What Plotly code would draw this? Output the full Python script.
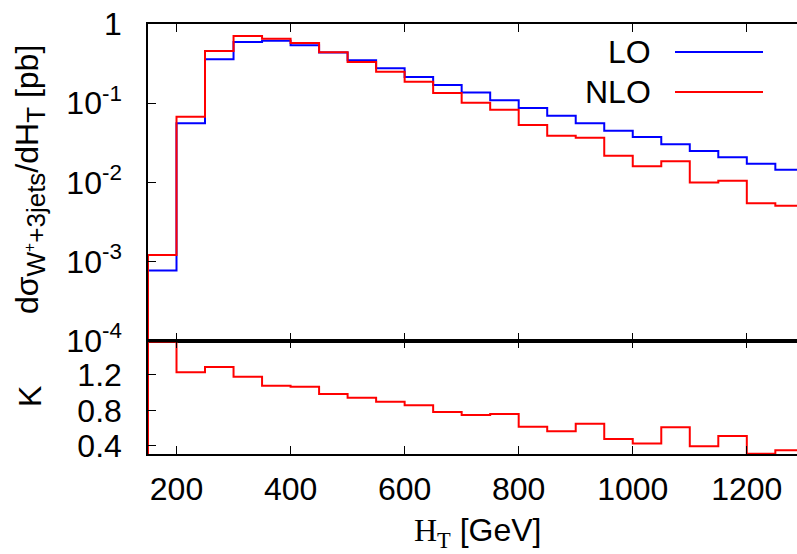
import plotly.graph_objects as go

# ---- data ----
edges = [150, 200, 250, 300, 350, 400, 450, 500, 550, 600, 650, 700, 750,
         800, 850, 900, 950, 1000, 1050, 1100, 1150, 1200, 1250, 1300]
lo = [7.7e-4, 0.0557, 0.358, 0.593, 0.615, 0.538, 0.435, 0.348, 0.276, 0.214,
      0.170, 0.136, 0.109, 0.087, 0.0695, 0.0557, 0.045, 0.0374, 0.0303,
      0.0249, 0.0207, 0.0172, 0.01446]
nlo = [1.21e-3, 0.0676, 0.456, 0.706, 0.653, 0.575, 0.44, 0.331, 0.25, 0.187,
       0.1345, 0.101, 0.0828, 0.053, 0.0389, 0.0367, 0.0217, 0.0160, 0.01845,
       0.00993, 0.01051, 0.00545, 0.00508]
kfac = [1.57, 1.226, 1.286, 1.178, 1.077, 1.065, 0.983, 0.942, 0.897, 0.856,
        0.781, 0.748, 0.759, 0.617, 0.564, 0.65, 0.478, 0.429, 0.609, 0.396,
        0.512, 0.314, 0.351]
top_ticks = [1, 0.1, 0.01, 0.001, 0.0001]
top_ticktext = ["1", "10<sup>-1</sup>", "10<sup>-2</sup>", "10<sup>-3</sup>", "10<sup>-4</sup>"]
k_ticks = [0.4, 0.8, 1.2]
x_ticks = [200, 400, 600, 800, 1000, 1200]

BLUE = "#0000ff"
RED = "#ff0000"
FONT = "Liberation Sans"
FS = 32

def step(vals, low):
    xs = [edges[0]] + edges
    ys = [low] + vals + [vals[-1]]
    return xs, ys

fig = go.Figure()
x, y = step(lo, 1e-6)
fig.add_trace(go.Scatter(x=x, y=y, mode="lines", line=dict(color=BLUE, width=2, shape="hv"),
                         xaxis="x", yaxis="y", showlegend=False, hoverinfo="skip"))
x, y = step(nlo, 1e-6)
fig.add_trace(go.Scatter(x=x, y=y, mode="lines", line=dict(color=RED, width=2, shape="hv"),
                         xaxis="x", yaxis="y", showlegend=False, hoverinfo="skip"))
x, y = step(kfac, 0.0)
fig.add_trace(go.Scatter(x=x, y=y, mode="lines", line=dict(color=RED, width=2, shape="hv"),
                         xaxis="x2", yaxis="y2", showlegend=False, hoverinfo="skip"))

split = 0.2635
axcommon = dict(showgrid=False, zeroline=False, showline=True, linecolor="black",
                linewidth=1.5, ticks="inside", ticklen=8, tickwidth=1.2, tickcolor="black",
                automargin=False,
                tickfont=dict(family=FONT, size=FS, color="black"))

fig.update_layout(
    width=797, height=554,
    margin=dict(l=148, r=0, t=24, b=100),
    plot_bgcolor="white", paper_bgcolor="white",
    xaxis=dict(domain=[0, 1], range=[150, 1288], anchor="y", mirror="ticks",
               tickvals=x_ticks, showticklabels=False, **axcommon),
    yaxis=dict(domain=[split, 1], type="log", range=[-4, 0], anchor="x",
               tickvals=top_ticks, ticktext=top_ticktext, ticklabelstandoff=18, **axcommon),
    xaxis2=dict(domain=[0, 1], range=[150, 1288], anchor="y2", mirror="ticks",
                tickvals=x_ticks, ticklabelstandoff=6, **axcommon),
    yaxis2=dict(domain=[0, split], range=[0.31, 1.581], anchor="x2",
                tickvals=k_ticks, tickformat=".1f", ticklabelstandoff=18, **axcommon),
)

# thick separator between panels
fig.add_shape(type="line", xref="paper", yref="paper", x0=0, x1=1, y0=split, y1=split,
              line=dict(color="black", width=3))

# legend (gnuplot style: text, then sample line)
fig.add_annotation(xref="paper", yref="paper", x=(653 - 148) / 649, y=1 - (52 - 24) / 430,
                   xanchor="right", yanchor="middle", showarrow=False, text="LO",
                   font=dict(family=FONT, size=FS, color="black"))
fig.add_annotation(xref="paper", yref="paper", x=(653 - 148) / 649, y=1 - (92 - 24) / 430,
                   xanchor="right", yanchor="middle", showarrow=False, text="NLO",
                   font=dict(family=FONT, size=FS, color="black"))
fig.add_shape(type="line", xref="paper", yref="paper", x0=(675 - 148) / 649, x1=(763 - 148) / 649,
              y0=1 - (52 - 24) / 430, y1=1 - (52 - 24) / 430, line=dict(color=BLUE, width=2))
fig.add_shape(type="line", xref="paper", yref="paper", x0=(675 - 148) / 649, x1=(763 - 148) / 649,
              y0=1 - (92 - 24) / 430, y1=1 - (92 - 24) / 430, line=dict(color=RED, width=2))

# axis titles
ylabel = ("dσ<sub><span style='font-size:26px'>W</span><sup>+</sup>"
          "<span style='font-size:26px'>+3jets</span></sub>/dH"
          "<sub><span style='font-size:26px'>T</span></sub> [pb]")
fig.add_annotation(xref="paper", yref="paper", x=(30 - 148) / 649, y=1 - (180 - 24) / 430,
                   xanchor="center", yanchor="middle", showarrow=False, textangle=-90,
                   text=ylabel, font=dict(family=FONT, size=FS, color="black"))
fig.add_annotation(xref="paper", yref="paper", x=(30 - 148) / 649, y=-(397 - 454) / 430,
                   xanchor="center", yanchor="middle", showarrow=False, textangle=-90,
                   text="K", font=dict(family=FONT, size=FS, color="black"))
fig.add_annotation(xref="paper", yref="paper", x=(478 - 148) / 649, y=-(532 - 454) / 430,
                   xanchor="center", yanchor="middle", showarrow=False,
                   text="<span style='font-family:Liberation Serif'>H<sub>T</sub></span> [GeV]",
                   font=dict(family=FONT, size=FS, color="black"))

fig.write_html("out.html", config={"displayModeBar": False},
               post_script="document.body.style.margin='0';")
